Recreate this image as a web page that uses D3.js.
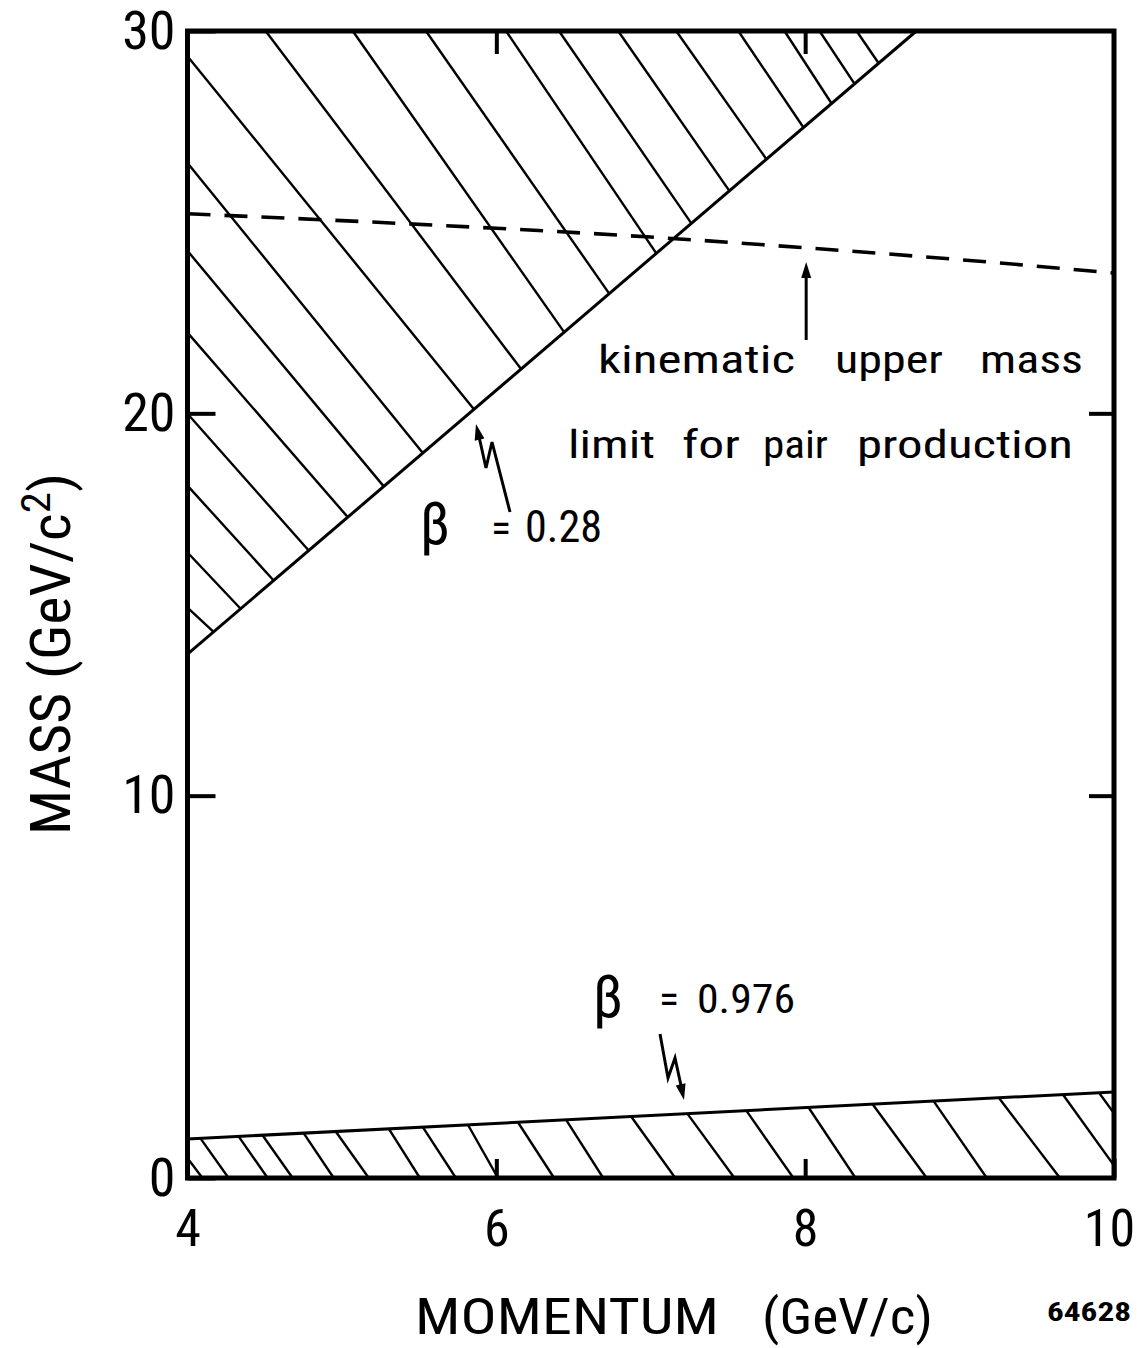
<!DOCTYPE html>
<html><head><meta charset="utf-8">
<script src="https://cdn.jsdelivr.net/npm/d3@7"></script>
<style>body{margin:0;background:#fff}svg{display:block}</style>
</head><body><svg id="c" width="1139" height="1348"></svg>
<script>
// ---- data ----
const xTicks = [4, 6, 8, 10];
const yTicks = [0, 10, 20, 30];
// beta = 0.28 boundary (momentum, mass)
const beta028P = [4, 8.72];
const beta028M = [13.7, 30];
// beta = 0.976 boundary
const beta0976P = [4, 10];
const beta0976M = [1.02, 2.25];
// kinematic upper mass limit (dashed)
const kinP = [4, 5, 6, 7, 8, 9, 10];
const kinM = [25.22, 25.04, 24.84, 24.61, 24.33, 24.02, 23.67];
// hatching of the upper region: start point on frame, end momentum on beta=0.28 line
const hatchUpStartP = [4, 4, 4, 4, 4, 4, 4, 4, 4.506, 5.070, 5.544, 6.063, 6.406, 6.789, 7.165, 7.567, 7.866, 8.093, 8.333];
const hatchUpStartM = [29.34, 26.55, 24.25, 22.11, 19.99, 18.11, 16.36, 14.92, 30, 30, 30, 30, 30, 30, 30, 30, 30, 30, 30];
const hatchUpEndP = [5.855, 5.524, 5.271, 5.038, 4.785, 4.558, 4.344, 4.169, 6.160, 6.439, 6.731, 7.036, 7.263, 7.509, 7.749, 7.989, 8.171, 8.320, 8.476];
// hatching of the lower band: momentum on beta=0.976 line, momentum at mass 0
const hatchLowTopP = [3.909, 4.084, 4.331, 4.486, 4.752, 4.960, 5.304, 5.524, 5.816, 6.140, 6.452, 6.873, 7.237, 7.619, 8.022, 8.437, 8.832, 9.254, 9.669, 9.903];
const hatchLowBotP = [4.097, 4.266, 4.519, 4.681, 4.947, 5.174, 5.505, 5.738, 6.011, 6.374, 6.692, 7.159, 7.542, 7.924, 8.326, 8.787, 9.176, 9.650, 10.058, 10.305];

// ---- drawing ----
const svg = d3.select('#c');
svg.append('rect').attr('width', 1139).attr('height', 1348).attr('fill', '#fff');
const L = 187.5, R = 1114, T = 31, B = 1178;
const x = d3.scaleLinear().domain([4, 10]).range([L, R]);
const y = d3.scaleLinear().domain([0, 30]).range([B, T]);
const up = d3.scaleLinear().domain(beta028P).range(beta028M);
const low = d3.scaleLinear().domain(beta0976P).range(beta0976M);
const FONT = "'Liberation Sans Narrow','Roboto Condensed','Liberation Sans',sans-serif";
const line = d3.line();

const defs = svg.append('defs');
defs.append('clipPath').attr('id', 'lowclip').append('path')
  .attr('d', line([[x(4), y(0)], [x(4), y(low(4))], [x(10), y(low(10))], [x(10), y(0)]]) + 'Z');

// upper hatch
svg.append('g').selectAll('line').data(d3.range(hatchUpStartP.length)).join('line')
  .attr('x1', i => x(hatchUpStartP[i])).attr('y1', i => y(hatchUpStartM[i]))
  .attr('x2', i => x(hatchUpEndP[i])).attr('y2', i => y(up(hatchUpEndP[i])))
  .attr('stroke', '#000').attr('stroke-width', 2.4);

// lower hatch
svg.append('g').attr('clip-path', 'url(#lowclip)').selectAll('line')
  .data(d3.range(hatchLowTopP.length)).join('line')
  .attr('x1', i => x(hatchLowTopP[i])).attr('y1', i => y(low(hatchLowTopP[i])))
  .attr('x2', i => x(hatchLowBotP[i])).attr('y2', y(0))
  .attr('stroke', '#000').attr('stroke-width', 2.4);

// boundary lines
svg.append('path').attr('d', line(beta028P.map((p, i) => [x(p), y(beta028M[i])])))
  .attr('fill', 'none').attr('stroke', '#000').attr('stroke-width', 3);
svg.append('path').attr('d', line(beta0976P.map((p, i) => [x(p), y(beta0976M[i])])))
  .attr('fill', 'none').attr('stroke', '#000').attr('stroke-width', 3);

// dashed kinematic limit
svg.append('path').attr('d', d3.line().curve(d3.curveMonotoneX)(kinP.map((p, i) => [x(p), y(kinM[i])])))
  .attr('fill', 'none').attr('stroke', '#000').attr('stroke-width', 3.6)
  .attr('stroke-dasharray', '23,14');

// axes
function styleAxis(g, fs) {
  g.select('.domain').remove();
  g.selectAll('.tick line').attr('stroke', '#000').attr('stroke-width', 4);
  g.selectAll('.tick text').attr('fill', '#000').attr('font-family', FONT).attr('font-size', fs);
}
svg.append('g').attr('transform', `translate(0,${B})`)
  .call(d3.axisBottom(x).tickValues(xTicks).tickSizeInner(-19).tickSizeOuter(0).tickPadding(31).tickFormat(d3.format('d')))
  .call(g => styleAxis(g, 52))
  .call(g => g.selectAll('.tick text').filter(d => d === 10).attr('dx', -5));
svg.append('g').attr('transform', `translate(0,${T})`)
  .call(d3.axisTop(x).tickValues(xTicks.slice(1, 3)).tickSizeInner(-23).tickSizeOuter(0).tickFormat(''))
  .call(g => styleAxis(g, 10));
svg.append('g').attr('transform', `translate(${L},0)`)
  .call(d3.axisLeft(y).tickValues(yTicks).tickSizeInner(-28).tickSizeOuter(0).tickPadding(12).tickFormat(d3.format('d')))
  .call(g => styleAxis(g, 54));
svg.append('g').attr('transform', `translate(${R},0)`)
  .call(d3.axisRight(y).tickValues(yTicks.slice(1, 3)).tickSizeInner(-25).tickSizeOuter(0).tickFormat(''))
  .call(g => styleAxis(g, 10));

// frame
svg.append('rect').attr('x', L).attr('y', T).attr('width', R - L).attr('height', B - T)
  .attr('fill', 'none').attr('stroke', '#000').attr('stroke-width', 5);

// text helper
function txt(s, px, py, fs, opts = {}) {
  const t = svg.append('text').attr('x', px).attr('y', py).attr('font-family', FONT)
    .attr('font-size', fs).attr('fill', '#000').text(s);
  if (opts.len) t.attr('textLength', opts.len).attr('lengthAdjust', 'spacingAndGlyphs');
  if (opts.anchor) t.attr('text-anchor', opts.anchor);
  if (opts.weight) t.attr('font-weight', opts.weight);
  return t;
}

// axis titles
txt('MOMENTUM', 415, 1334, 50, {len: 304});
txt('(GeV/c)', 762, 1334, 50, {len: 171});
const yl = svg.append('text').attr('transform', 'translate(70,835) rotate(-90)')
  .attr('font-family', FONT).attr('font-size', 56).attr('fill', '#000')
  .attr('textLength', 362).attr('lengthAdjust', 'spacingAndGlyphs');
yl.append('tspan').text('MASS (GeV/c');
yl.append('tspan').attr('dy', -20).attr('font-size', 40).text('2');
yl.append('tspan').attr('dy', 20).text(')');
txt('64628', 1047, 1321, 26, {len: 84, weight: 'bold'});

// annotation text
txt('kinematic', 598, 373, 39, {len: 197});
txt('upper', 835, 373, 39, {len: 108});
txt('mass', 980, 373, 39, {len: 103});
txt('limit', 568, 458, 39, {len: 87});
txt('for', 682, 458, 39, {len: 58});
txt('pair', 763, 458, 39, {len: 65});
txt('production', 857, 458, 39, {len: 216});

txt('\u03B2', 420, 544, 60, {len: 30});
txt('=', 491, 542, 40, {len: 20});
txt('0.28', 525, 542, 44, {len: 77});
txt('\u03B2', 593, 1017, 60, {len: 30});
txt('=', 659, 1013, 40, {len: 20});
txt('0.976', 697, 1013, 40, {len: 98});

// arrows
function head(tip, from, len = 16, w = 5) {
  const dx = tip[0] - from[0], dy = tip[1] - from[1], d = Math.hypot(dx, dy);
  const ux = dx / d, uy = dy / d;
  const bx = tip[0] - ux * len, by = tip[1] - uy * len;
  svg.append('path').attr('d', line([tip, [bx - uy * w, by + ux * w], [bx + uy * w, by - ux * w]]) + 'Z')
    .attr('fill', '#000');
}
function zig(pts) {
  svg.append('path').attr('d', line(pts)).attr('fill', 'none').attr('stroke', '#000')
    .attr('stroke-width', 3).attr('stroke-linejoin', 'miter');
}
// beta = 0.28 lightning arrow
const a1 = [[510, 512], [492, 442], [486, 468], [478, 432]];
zig(a1); head([476, 424], [486, 468]);
// beta = 0.976 lightning arrow
const a2 = [[660, 1034], [668, 1078], [675, 1058], [682, 1090]];
zig(a2); head([684, 1100], [675, 1058]);
// kinematic arrow
const ax = x(8) + 1;
zig([[ax, 340], [ax, 272]]); head([ax, 262], [ax, 340], 16, 5);
</script></body></html>
